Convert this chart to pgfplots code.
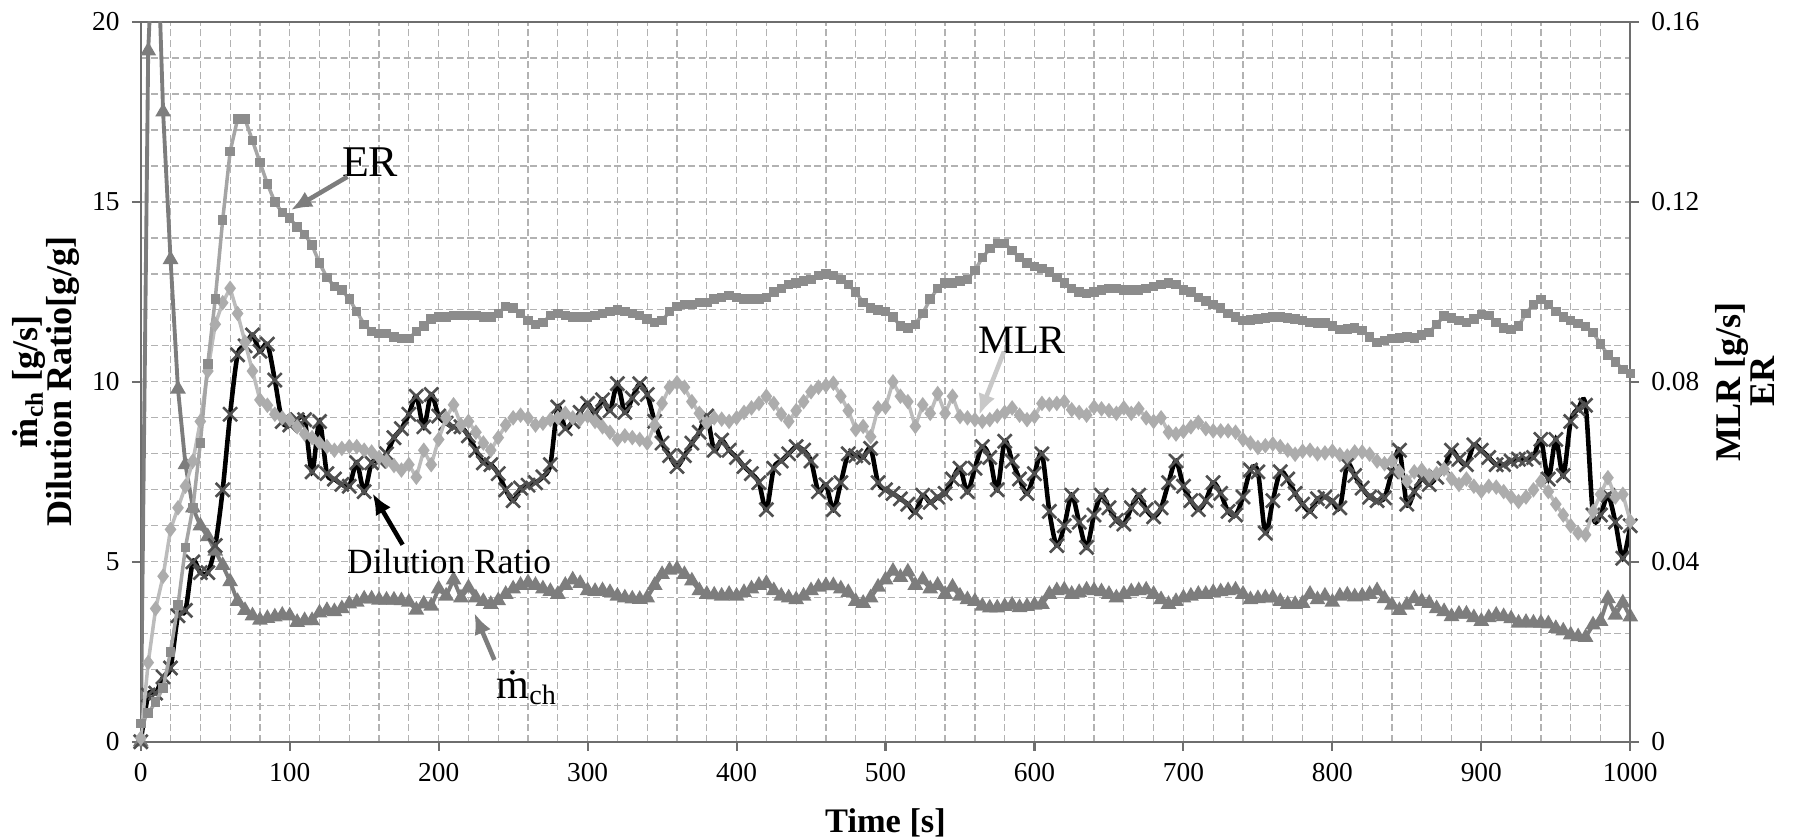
\documentclass[border=0pt]{standalone}
\usepackage{fontspec}
\setmainfont{Liberation Serif}
\usepackage{pgfplots}
\pgfplotsset{compat=1.18}
\usetikzlibrary{arrows.meta}

\definecolor{mchgray}{RGB}{125,125,125}
\definecolor{ergray}{RGB}{165,165,165}
\definecolor{ermark}{RGB}{140,140,140}
\definecolor{mlrgray}{RGB}{188,188,188}
\definecolor{mlrmark}{RGB}{172,172,172}
\definecolor{xgray}{RGB}{80,80,80}
\definecolor{gridc}{RGB}{178,178,178}
\definecolor{axisc}{RGB}{110,110,110}
\definecolor{arrowlight}{RGB}{200,200,200}

\begin{document}
\begin{tikzpicture}
\useasboundingbox (-1.41cm,-0.97cm) rectangle (16.59cm,7.43cm);
\pgfplotsset{every axis/.append style={
    scale only axis, width=14.92cm, height=7.21cm,
    xmin=0, xmax=1000,
    /pgf/number format/assume math mode=true,
    /pgf/number format/1000 sep={},
    tick label style={font=\fontsize{7.8}{9}\selectfont},
    axis line style={axisc, line width=0.6pt},
    tick style={axisc, line width=0.6pt},
    major tick length=2.5pt, tick align=outside,
}}

% ---------------- left axis: m_ch and dilution ratio ----------------
\begin{axis}[
    at={(0,0)}, anchor=south west,
    ymin=0, ymax=20,
    xtick={0,100,...,1000}, ytick={0,5,...,20},
    minor x tick num=4, minor y tick num=4, minor tick length=0pt,
    grid=both,
    major grid style={gridc, dash pattern=on 2pt off 1pt, line width=0.35pt},
    minor grid style={gridc, dash pattern=on 2pt off 1pt, line width=0.35pt},
    xtick pos=left, ytick pos=left,
    xlabel={Time [s]},
    xlabel style={font=\fontsize{9.8}{12}\selectfont\bfseries, inner sep=0pt,
      at={(axis description cs:0.5,-0.0915)}, anchor=north},
    ylabel={ṁ\textsubscript{ch} [g/s]\\Dilution Ratio[g/g]},
    ylabel style={font=\fontsize{10.3}{9.6}\selectfont\bfseries, align=center,
      inner sep=0pt, at={(axis description cs:-0.041,0.5)}, anchor=south},
  ]
  % m_ch
  \addplot[mchgray, line width=1.1pt, mark=triangle*, mark size=1.5pt,
    mark options={fill=mchgray, draw=mchgray}] coordinates {
    (0,0)(5,19.2)(10,24)(15,17.5)(20,13.4)(25,9.8)(30,7.7)(35,6.5)(40,6.0)(45,5.7)
    (50,5.3)(55,4.9)(60,4.45)(65,3.9)(70,3.65)(75,3.5)(80,3.38)(85,3.43)(90,3.47)(95,3.52)
    (100,3.5)(105,3.32)(110,3.37)(115,3.37)(120,3.58)(125,3.65)(130,3.62)(135,3.7)(140,3.83)(145,3.88)
    (150,3.97)(155,3.97)(160,3.94)(165,3.94)(170,3.94)(175,3.92)(180,3.88)(185,3.66)(190,3.83)(195,3.77)
    (200,4.25)(205,4.05)(210,4.5)(215,4.0)(220,4.28)(225,4.0)(230,3.9)(235,3.82)(240,3.92)(245,4.1)
    (250,4.25)(255,4.35)(260,4.42)(265,4.35)(270,4.25)(275,4.18)(280,4.1)(285,4.35)(290,4.5)(295,4.4)
    (300,4.2)(305,4.18)(310,4.2)(315,4.15)(320,4.05)(325,4.0)(330,3.97)(335,3.96)(340,4.0)(345,4.35)
    (350,4.65)(355,4.77)(360,4.8)(365,4.65)(370,4.47)(375,4.2)(380,4.1)(385,4.08)(390,4.05)(395,4.1)
    (400,4.05)(405,4.15)(410,4.25)(415,4.35)(420,4.4)(425,4.2)(430,4.05)(435,4.0)(440,3.95)(445,4.05)
    (450,4.2)(455,4.3)(460,4.34)(465,4.34)(470,4.25)(475,4.15)(480,3.9)(485,3.85)(490,4.0)(495,4.3)
    (500,4.5)(505,4.74)(510,4.57)(515,4.72)(520,4.35)(525,4.5)(530,4.25)(535,4.35)(540,4.1)(545,4.3)
    (550,4.05)(555,3.95)(560,3.9)(565,3.77)(570,3.72)(575,3.72)(580,3.76)(585,3.8)(590,3.73)(595,3.76)
    (600,3.8)(605,3.82)(610,4.1)(615,4.2)(620,4.22)(625,4.1)(630,4.15)(635,4.22)(640,4.2)(645,4.17)
    (650,4.1)(655,4.0)(660,4.1)(665,4.17)(670,4.2)(675,4.22)(680,4.1)(685,3.95)(690,3.82)(695,3.9)
    (700,4.0)(705,4.05)(710,4.1)(715,4.1)(720,4.15)(725,4.17)(730,4.2)(735,4.22)(740,4.1)(745,3.95)
    (750,3.98)(755,4.0)(760,4.0)(765,3.9)(770,3.82)(775,3.82)(780,3.85)(785,4.1)(790,3.95)(795,4.05)
    (800,3.88)(805,4.05)(810,4.08)(815,4.03)(820,4.05)(825,4.1)(830,4.2)(835,3.98)(840,3.8)(845,3.65)
    (850,3.8)(855,3.98)(860,3.9)(865,3.85)(870,3.7)(875,3.62)(880,3.48)(885,3.55)(890,3.55)(895,3.45)
    (900,3.35)(905,3.45)(910,3.52)(915,3.48)(920,3.42)(925,3.3)(930,3.32)(935,3.3)(940,3.3)(945,3.28)
    (950,3.15)(955,3.08)(960,2.97)(965,2.92)(970,2.9)(975,3.25)(980,3.35)(985,3.98)(990,3.52)(995,3.86)
    (1000,3.47)};
  % dilution ratio
  \addplot[black, line width=1.3pt, smooth, tension=0.5, mark=x, mark size=2.8pt,
    mark options={draw=xgray, line width=0.75pt}] coordinates {
    (0,0)(5,1.3)(10,1.35)(15,1.8)(20,2.05)(25,3.5)(30,3.65)(35,5.0)(40,4.7)(45,4.7)
    (50,5.45)(55,7.0)(60,9.1)(65,10.75)(70,11.0)(75,11.3)(80,10.85)(85,11.05)(90,10.05)(95,8.9)
    (100,8.8)(105,8.95)(110,8.95)(115,7.5)(120,8.9)(125,7.45)(130,7.3)(135,7.15)(140,7.1)(145,7.75)
    (150,6.95)(155,7.75)(160,7.8)(165,8.0)(170,8.45)(175,8.7)(180,9.1)(185,9.6)(190,8.75)(195,9.65)
    (200,9.05)(205,8.85)(210,8.75)(215,8.75)(220,8.5)(225,8.1)(230,7.75)(235,7.7)(240,7.45)(245,7.0)
    (250,6.7)(255,7.05)(260,7.13)(265,7.2)(270,7.36)(275,7.7)(280,9.3)(285,8.7)(290,8.9)(295,9.15)
    (300,9.4)(305,9.13)(310,9.5)(315,9.2)(320,9.95)(325,9.15)(330,9.55)(335,9.95)(340,9.65)(345,8.9)
    (350,8.3)(355,7.95)(360,7.65)(365,7.95)(370,8.3)(375,8.6)(380,9.05)(385,8.1)(390,8.38)(395,8.1)
    (400,7.9)(405,7.65)(410,7.45)(415,7.2)(420,6.45)(425,7.6)(430,7.8)(435,8.0)(440,8.2)(445,8.1)
    (450,7.8)(455,6.95)(460,7.14)(465,6.45)(470,7.2)(475,8.0)(480,7.95)(485,7.9)(490,8.15)(495,7.2)
    (500,7.0)(505,6.9)(510,6.75)(515,6.6)(520,6.38)(525,6.85)(530,6.65)(535,6.8)(540,6.9)(545,7.3)
    (550,7.6)(555,6.95)(560,7.6)(565,8.2)(570,7.9)(575,7.0)(580,8.35)(585,7.8)(590,7.3)(595,6.9)
    (600,7.45)(605,8.0)(610,6.4)(615,5.45)(620,6.0)(625,6.85)(630,6.1)(635,5.4)(640,6.3)(645,6.85)
    (650,6.5)(655,6.15)(660,6.05)(665,6.5)(670,6.85)(675,6.45)(680,6.25)(685,6.5)(690,7.2)(695,7.8)
    (700,7.1)(705,6.7)(710,6.45)(715,6.7)(720,7.2)(725,6.9)(730,6.4)(735,6.3)(740,6.8)(745,7.55)
    (750,7.5)(755,5.8)(760,6.7)(765,7.5)(770,7.3)(775,6.9)(780,6.6)(785,6.4)(790,6.75)(795,6.8)
    (800,6.68)(805,6.5)(810,7.7)(815,7.4)(820,7.05)(825,6.8)(830,6.7)(835,6.78)(840,7.5)(845,8.1)
    (850,6.6)(855,6.95)(860,7.3)(865,7.15)(870,7.35)(875,7.6)(880,8.1)(885,7.85)(890,7.7)(895,8.25)
    (900,8.1)(905,7.9)(910,7.7)(915,7.7)(920,7.8)(925,7.85)(930,7.85)(935,7.9)(940,8.4)(945,7.3)
    (950,8.4)(955,7.4)(960,8.9)(965,9.25)(970,9.35)(975,6.3)(980,6.3)(985,6.85)(990,6.1)(995,5.1)
    (1000,6.0)};
\end{axis}

% ---------------- right axis: MLR and ER ----------------
\begin{axis}[
    at={(0,0)}, anchor=south west,
    ymin=0, ymax=0.16,
    axis y line*=right, axis x line=none,
    ytick={0,0.04,0.08,0.12,0.16},
    yticklabels={0,0.04,0.08,0.12,0.16},
    ylabel={MLR [g/s]\\ER},
    ylabel style={font=\fontsize{10.3}{9.6}\selectfont\bfseries, align=center,
      inner sep=0pt, at={(axis description cs:1.057,0.5)}, anchor=north},
  ]
  % MLR
  \addplot[mlrgray, line width=1.0pt, mark=diamond*, mark size=1.4pt,
    mark options={fill=mlrmark, draw=mlrmark}] coordinates {
    (0,0.0008)(5,0.0176)(10,0.0296)(15,0.0368)(20,0.0472)(25,0.0520)(30,0.0568)(35,0.0624)(40,0.0712)(45,0.0824)
    (50,0.0928)(55,0.0976)(60,0.1008)(65,0.0952)(70,0.0888)(75,0.0824)(80,0.0760)(85,0.0748)(90,0.0728)(95,0.0720)
    (100,0.0716)(105,0.0700)(110,0.0684)(115,0.0676)(120,0.0664)(125,0.0656)(130,0.0648)(135,0.0652)(140,0.0656)(145,0.0656)
    (150,0.0648)(155,0.0644)(160,0.0632)(165,0.0624)(170,0.0614)(175,0.0604)(180,0.0616)(185,0.0588)(190,0.0648)(195,0.0616)
    (200,0.0672)(205,0.0720)(210,0.0749)(215,0.0704)(220,0.0712)(225,0.0688)(230,0.0664)(235,0.0648)(240,0.0676)(245,0.0704)
    (250,0.0720)(255,0.0726)(260,0.0720)(265,0.0704)(270,0.0708)(275,0.0716)(280,0.0720)(285,0.0730)(290,0.0720)(295,0.0717)
    (300,0.0724)(305,0.0712)(310,0.0700)(315,0.0688)(320,0.0672)(325,0.0680)(330,0.0676)(335,0.0672)(340,0.0664)(345,0.0704)
    (350,0.0752)(355,0.0788)(360,0.0798)(365,0.0788)(370,0.0756)(375,0.0730)(380,0.0708)(385,0.0720)(390,0.0717)(395,0.0712)
    (400,0.0720)(405,0.0732)(410,0.0742)(415,0.0752)(420,0.0768)(425,0.0752)(430,0.0728)(435,0.0712)(440,0.0736)(445,0.0756)
    (450,0.0778)(455,0.0788)(460,0.0792)(465,0.0797)(470,0.0768)(475,0.0736)(480,0.0694)(485,0.0701)(490,0.0678)(495,0.0742)
    (500,0.0744)(505,0.0800)(510,0.0768)(515,0.0756)(520,0.0701)(525,0.0749)(530,0.0730)(535,0.0774)(540,0.0730)(545,0.0768)
    (550,0.0723)(555,0.0720)(560,0.0716)(565,0.0712)(570,0.0716)(575,0.0724)(580,0.0732)(585,0.0742)(590,0.0726)(595,0.0716)
    (600,0.0723)(605,0.0752)(610,0.0750)(615,0.0752)(620,0.0756)(625,0.0738)(630,0.0732)(635,0.0726)(640,0.0744)(645,0.0740)
    (650,0.0736)(655,0.0730)(660,0.0742)(665,0.0730)(670,0.0740)(675,0.0720)(680,0.0712)(685,0.0720)(690,0.0688)(695,0.0684)
    (700,0.0690)(705,0.0700)(710,0.0710)(715,0.0696)(720,0.0691)(725,0.0691)(730,0.0691)(735,0.0688)(740,0.0672)(745,0.0664)
    (750,0.0654)(755,0.0658)(760,0.0662)(765,0.0656)(770,0.0648)(775,0.0639)(780,0.0646)(785,0.0648)(790,0.0640)(795,0.0642)
    (800,0.0646)(805,0.0638)(810,0.0635)(815,0.0644)(820,0.0644)(825,0.0639)(830,0.0624)(835,0.0618)(840,0.0624)(845,0.0600)
    (850,0.0579)(855,0.0600)(860,0.0604)(865,0.0592)(870,0.0596)(875,0.0606)(880,0.0584)(885,0.0572)(890,0.0584)(895,0.0568)
    (900,0.0557)(905,0.0568)(910,0.0566)(915,0.0556)(920,0.0544)(925,0.0534)(930,0.0544)(935,0.0560)(940,0.0579)(945,0.0556)
    (950,0.0528)(955,0.0504)(960,0.0480)(965,0.0464)(970,0.0460)(975,0.0512)(980,0.0550)(985,0.0587)(990,0.0544)(995,0.0550)
    (1000,0.0490)};
  % ER
  \addplot[ergray, line width=1.0pt, mark=square*, mark size=0.85pt,
    mark options={fill=ermark, draw=ermark}] coordinates {
    (0,0.0040)(5,0.0064)(10,0.0088)(15,0.0120)(20,0.0200)(25,0.0304)(30,0.0432)(35,0.0520)(40,0.0664)(45,0.0840)
    (50,0.0984)(55,0.1160)(60,0.1312)(65,0.1384)(70,0.1384)(75,0.1336)(80,0.1288)(85,0.1240)(90,0.1200)(95,0.1176)
    (100,0.1164)(105,0.1144)(110,0.1128)(115,0.1104)(120,0.1064)(125,0.1032)(130,0.1012)(135,0.1004)(140,0.0984)(145,0.0956)
    (150,0.0928)(155,0.0912)(160,0.0908)(165,0.0908)(170,0.0900)(175,0.0896)(180,0.0896)(185,0.0912)(190,0.0924)(195,0.0940)
    (200,0.0944)(205,0.0944)(210,0.0948)(215,0.0948)(220,0.0948)(225,0.0948)(230,0.0944)(235,0.0944)(240,0.0952)(245,0.0968)
    (250,0.0964)(255,0.0952)(260,0.0936)(265,0.0928)(270,0.0932)(275,0.0948)(280,0.0952)(285,0.0948)(290,0.0944)(295,0.0944)
    (300,0.0944)(305,0.0948)(310,0.0952)(315,0.0956)(320,0.0960)(325,0.0956)(330,0.0952)(335,0.0948)(340,0.0940)(345,0.0932)
    (350,0.0936)(355,0.0956)(360,0.0968)(365,0.0972)(370,0.0972)(375,0.0976)(380,0.0976)(385,0.0984)(390,0.0988)(395,0.0992)
    (400,0.0988)(405,0.0984)(410,0.0984)(415,0.0984)(420,0.0988)(425,0.1000)(430,0.1008)(435,0.1016)(440,0.1020)(445,0.1024)
    (450,0.1028)(455,0.1036)(460,0.1040)(465,0.1036)(470,0.1028)(475,0.1016)(480,0.1000)(485,0.0976)(490,0.0964)(495,0.0960)
    (500,0.0956)(505,0.0944)(510,0.0924)(515,0.0920)(520,0.0928)(525,0.0952)(530,0.0984)(535,0.1008)(540,0.1020)(545,0.1020)
    (550,0.1024)(555,0.1028)(560,0.1048)(565,0.1076)(570,0.1096)(575,0.1108)(580,0.1108)(585,0.1092)(590,0.1076)(595,0.1064)
    (600,0.1056)(605,0.1052)(610,0.1044)(615,0.1032)(620,0.1020)(625,0.1008)(630,0.1000)(635,0.0996)(640,0.1000)(645,0.1004)
    (650,0.1008)(655,0.1008)(660,0.1004)(665,0.1004)(670,0.1004)(675,0.1008)(680,0.1012)(685,0.1016)(690,0.1020)(695,0.1016)
    (700,0.1004)(705,0.1000)(710,0.0988)(715,0.0980)(720,0.0972)(725,0.0964)(730,0.0952)(735,0.0944)(740,0.0936)(745,0.0938)
    (750,0.0940)(755,0.0942)(760,0.0944)(765,0.0944)(770,0.0942)(775,0.0940)(780,0.0936)(785,0.0932)(790,0.0931)(795,0.0931)
    (800,0.0924)(805,0.0916)(810,0.0918)(815,0.0920)(820,0.0914)(825,0.0900)(830,0.0888)(835,0.0892)(840,0.0896)(845,0.0898)
    (850,0.0900)(855,0.0898)(860,0.0904)(865,0.0910)(870,0.0928)(875,0.0946)(880,0.0942)(885,0.0936)(890,0.0932)(895,0.0940)
    (900,0.0950)(905,0.0948)(910,0.0932)(915,0.0920)(920,0.0916)(925,0.0924)(930,0.0952)(935,0.0972)(940,0.0983)(945,0.0972)
    (950,0.0956)(955,0.0944)(960,0.0936)(965,0.0930)(970,0.0923)(975,0.0910)(980,0.0884)(985,0.0860)(990,0.0844)(995,0.0828)
    (1000,0.0818)};

  % annotations
  \node[font=\fontsize{12.5}{13}\selectfont, anchor=base, inner sep=0pt] at (axis cs:154,0.1256) {ER};
  \draw[mchgray, line width=1.3pt, -{Latex[length=6pt,width=5pt]}]
    (axis cs:138.8,0.1256) -- (axis cs:100.8,0.1182);
  \node[font=\fontsize{11.5}{12}\selectfont, anchor=base, inner sep=0pt] at (axis cs:591.6,0.0864) {MLR};
  \draw[arrowlight, line width=1.3pt, -{Latex[length=6pt,width=5pt]}]
    (axis cs:579.5,0.0867) -- (axis cs:562.8,0.0726);
  \node[font=\fontsize{10.1}{11}\selectfont, anchor=base, inner sep=0pt] at (axis cs:207,0.0375) {Dilution Ratio};
  \draw[black, line width=1.3pt, -{Latex[length=6pt,width=5pt]}]
    (axis cs:175.8,0.0438) -- (axis cs:155.6,0.0552);
  \node[font=\fontsize{12}{13}\selectfont, anchor=base west, inner sep=0pt] at (axis cs:238.5,0.0097) {ṁ\textsubscript{ch}};
  \draw[mchgray, line width=1.3pt, -{Latex[length=6pt,width=5pt]}]
    (axis cs:237.4,0.0182) -- (axis cs:224,0.0286);
\end{axis}
\end{tikzpicture}
\end{document}
